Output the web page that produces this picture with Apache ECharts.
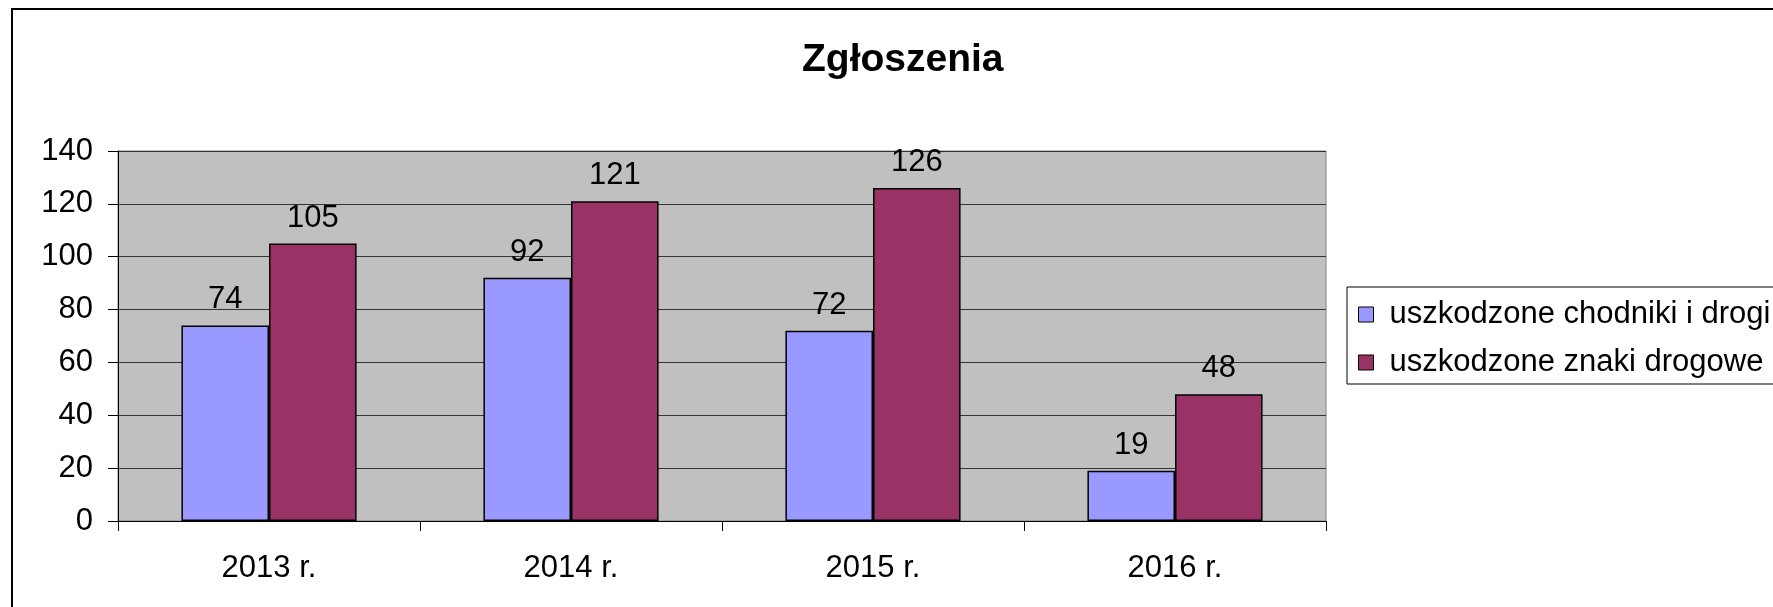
<!DOCTYPE html>
<html>
<head>
<meta charset="utf-8">
<title>Zgłoszenia</title>
<script src="https://cdn.jsdelivr.net/npm/echarts@6/dist/echarts.min.js"></script>
<style>
  html, body { margin: 0; padding: 0; background: #fff; }
  #chart { width: 1773px; height: 607px; }
</style>
</head>
<body>
<div id="chart"></div>
<script>
// Yearly report counts
const years = ['2013 r.', '2014 r.', '2015 r.', '2016 r.'];
const chodnikiIDrogi = [74, 92, 72, 19];
const znakiDrogowe = [105, 121, 126, 48];
const seriesNames = ['uszkodzone chodniki i drogi', 'uszkodzone znaki drogowe'];

const FONT = 'Liberation Sans, Arial, sans-serif';
const TXT = { fontFamily: FONT, fontSize: 31, color: '#000' };

const chart = echarts.init(document.getElementById('chart'), null, { renderer: 'canvas' });

chart.setOption({
  backgroundColor: '#fff',
  animation: false,
  title: {
    text: 'Zgłoszenia',
    left: 802,
    top: 41,
    padding: 0,
    textStyle: { fontFamily: FONT, fontSize: 39, fontWeight: 'bold', color: '#000' }
  },
  graphic: [{
    type: 'rect',
    z: -10,
    shape: { x: 12, y: 9, width: 1800, height: 700 },
    style: { fill: 'none', stroke: '#000', lineWidth: 2 }
  }],
  legend: {
    orient: 'vertical',
    left: 1347,
    top: 287,
    padding: [12, 20, 6, 11],
    itemGap: 17,
    itemWidth: 15,
    itemHeight: 15,
    borderColor: '#000',
    borderWidth: 1,
    backgroundColor: '#fff',
    icon: 'rect',
    itemStyle: { borderColor: '#000', borderWidth: 1 },
    textStyle: Object.assign({}, TXT, { padding: [0, 0, 0, 11] }),
    data: seriesNames
  },
  grid: {
    left: 118,
    top: 151,
    right: 447,
    bottom: 86,
    show: true,
    backgroundColor: '#c0c0c0',
    borderColor: '#808080',
    borderWidth: 1
  },
  xAxis: {
    type: 'category',
    data: years,
    axisLine: { show: true, lineStyle: { color: '#000', width: 1 } },
    axisTick: { show: true, length: 10, alignWithLabel: false, lineStyle: { color: '#000' } },
    axisLabel: Object.assign({}, TXT, { margin: 32 }),
    splitLine: { show: false }
  },
  yAxis: {
    type: 'value',
    min: 0,
    max: 140,
    interval: 20,
    axisLine: { show: true, lineStyle: { color: '#000', width: 1 } },
    axisTick: { show: true, length: 10, lineStyle: { color: '#000' } },
    axisLabel: Object.assign({}, TXT, { margin: 25 }),
    splitLine: { show: true, lineStyle: { color: '#333', width: 1 } }
  },
  series: [
    {
      name: seriesNames[0],
      type: 'bar',
      data: chodnikiIDrogi,
      barGap: '0%',
      barCategoryGap: '42%',
      itemStyle: { color: '#9999ff', borderColor: '#000', borderWidth: 1.5 },
      label: Object.assign({ show: true, position: 'top', distance: 10 }, TXT)
    },
    {
      name: seriesNames[1],
      type: 'bar',
      data: znakiDrogowe,
      barGap: '0%',
      barCategoryGap: '42%',
      itemStyle: { color: '#993366', borderColor: '#000', borderWidth: 1.5 },
      label: Object.assign({ show: true, position: 'top', distance: 10 }, TXT)
    }
  ]
});
</script>
</body>
</html>
